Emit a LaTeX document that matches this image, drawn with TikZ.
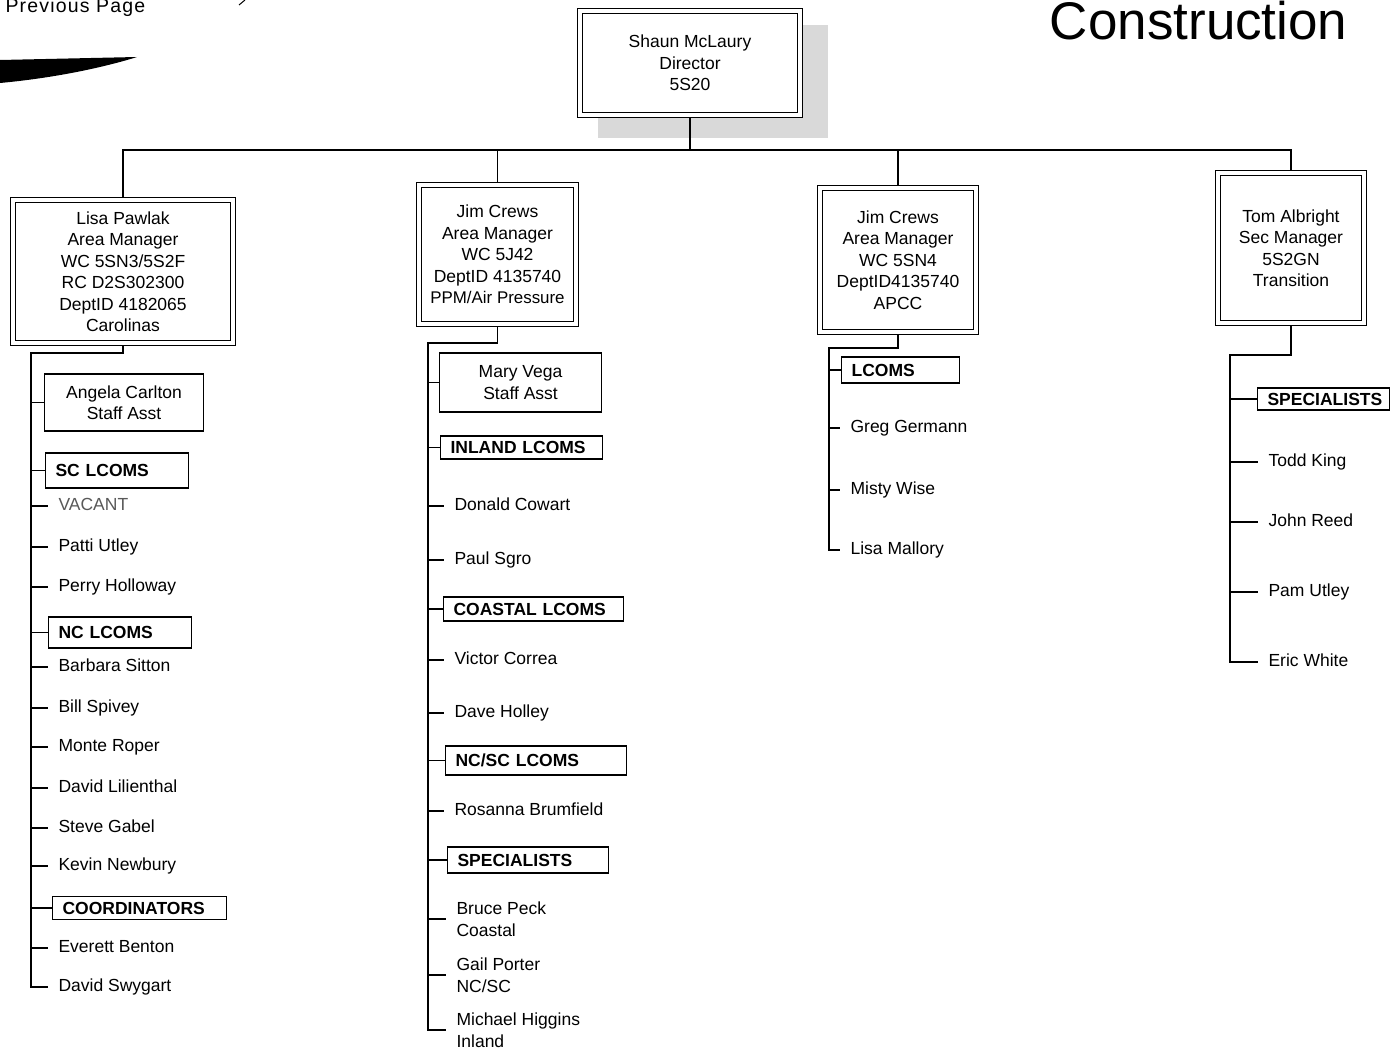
\documentclass[tikz,border=0pt]{standalone}
\usepackage{fontspec}
\setmainfont{Liberation Sans}
\begin{document}
\begin{tikzpicture}[x=1pt,y=-1pt, line width=1.1pt,
  every node/.style={font=\fontsize{17.5}{21.5}\selectfont},
  hdr/.style={draw, double, double distance=3.6pt, line width=1.1pt, fill=white, align=center, inner sep=0pt, outer sep=2.9pt},
  grp/.style={draw, line width=1.1pt, anchor=west, inner xsep=10pt, inner ysep=0pt, align=left, text height=12.5pt, text depth=0pt, font=\fontsize{17.5}{21.5}\selectfont\bfseries},
  leaf/.style={anchor=west, inner sep=0pt, align=left, text height=12.5pt, text depth=3.5pt},
  leafb/.style={anchor=west, inner sep=0pt, align=left},
  asst/.style={draw, line width=1.1pt, anchor=west, align=center, inner sep=0pt}
]
\clip (0,0) rectangle (1390,1051);
\fill[white] (0,0) rectangle (1390,1051);

% page decorations
\node[anchor=base west, font=\fontsize{19.5}{22}\selectfont\addfontfeatures{LetterSpace=6}, inner sep=0pt] (prev) at (5,13) {Previous Page};
\fill (0,60) -- (137,57) .. controls (115,64) and (65,77) .. (0,83) -- cycle;
\draw[line width=1pt] (239,5) -- (245,0);
\node[anchor=base east, inner sep=0pt, font=\fontsize{53}{60}\selectfont] (title) at (1348,40) {Construction};

% director
\fill[gray!30] (598,25) rectangle (828,138);
\node[hdr, minimum width=220pt, minimum height=104pt] (dir) at (690,63) {Shaun McLaury\\Director\\5S20};

% area managers
\node[hdr, minimum width=220pt, minimum height=143pt] (b1) at (123,271.5) {Lisa Pawlak\\Area Manager\\WC 5SN3/5S2F\\RC D2S302300\\DeptID 4182065\\Carolinas};
\node[hdr, minimum width=157pt, minimum height=139pt] (b2) at (497.5,254.5) {Jim Crews\\Area Manager\\WC 5J42\\DeptID 4135740\\{\fontsize{16.9}{21.5}\selectfont PPM/Air Pressure}};
\node[hdr, minimum width=156pt, minimum height=144pt] (b3) at (898,260) {Jim Crews\\Area Manager\\WC 5SN4\\DeptID4135740\\APCC};
\node[hdr, minimum width=146pt, minimum height=150pt] (b4) at (1291,248) {Tom Albright\\Sec Manager\\5S2GN\\Transition};

\coordinate (bar) at (0,150);
\draw (dir.south) -- (dir.south |- bar);
\draw (b1.north) -- (b1.north |- bar) -- (b4.north |- bar) -- (b4.north);
\draw (b2.north) -- (b2.north |- bar);
\draw (b3.north) -- (b3.north |- bar);

% column 1
\coordinate (t1) at (31,353);
\node[asst, minimum width=159pt, minimum height=57pt] (ang) at (44,402.5) {Angela Carlton\\Staff Asst};
\node[grp, text width=123pt, minimum height=35pt] (sc) at (45,470.5) {SC LCOMS};
\node[grp, text width=123pt, minimum height=31pt] (nc) at (48,632.5) {NC LCOMS};
\node[grp, text width=154pt, minimum height=23pt] (coord) at (52,908) {COORDINATORS};
\node[leaf, text=black!65] (vac) at (58,506) {VACANT};
\node[leaf] (pat) at (58,547) {Patti Utley};
\node[leaf] (per) at (58,587) {Perry Holloway};
\node[leaf] (bar1) at (58,667) {Barbara Sitton};
\node[leaf] (bil) at (58,708) {Bill Spivey};
\node[leaf] (mon) at (58,747) {Monte Roper};
\node[leaf] (dli) at (58,788) {David Lilienthal};
\node[leaf] (ste) at (58,828) {Steve Gabel};
\node[leaf] (kev) at (58,866) {Kevin Newbury};
\node[leaf] (eve) at (58,948) {Everett Benton};
\node[leaf] (swy) at (58,987) {David Swygart};
\draw (b1.south) |- (t1) |- ([xshift=-10pt]swy.west);
\foreach \n in {ang,sc,nc,coord} \draw (t1 |- \n.west) -- (\n.west);
\foreach \n in {vac,pat,per,bar1,bil,mon,dli,ste,kev,eve} \draw (t1 |- \n.west) -- ([xshift=-10pt]\n.west);

% column 2
\coordinate (t2) at (428,343);
\node[asst, minimum width=162pt, minimum height=59pt] (mar) at (439,382.5) {Mary Vega\\Staff Asst};
\node[grp, text width=142pt, minimum height=23pt] (inl) at (440,447.5) {INLAND LCOMS};
\node[grp, text width=160pt, minimum height=24pt] (coa) at (443,609) {COASTAL LCOMS};
\node[grp, text width=161pt, minimum height=29pt] (ncsc) at (445,760.5) {NC/SC LCOMS};
\node[grp, text width=141pt, minimum height=26pt] (spec2) at (447,860) {SPECIALISTS};
\node[leaf] (don) at (454,506) {Donald Cowart};
\node[leaf] (pau) at (454,560) {Paul Sgro};
\node[leaf] (vic) at (454,660) {Victor Correa};
\node[leaf] (dho) at (454,713) {Dave Holley};
\node[leaf] (ros) at (454,811) {Rosanna Brumfield};
\node[leafb] (bru) at (456,919) {Bruce Peck\\Coastal};
\node[leafb] (gai) at (456,975) {Gail Porter\\NC/SC};
\node[leafb] (mic) at (456,1030) {Michael Higgins\\Inland};
\draw (b2.south) |- (t2) |- ([xshift=-10pt]mic.west);
\foreach \n in {mar,inl,coa,ncsc,spec2} \draw (t2 |- \n.west) -- (\n.west);
\foreach \n in {don,pau,vic,dho,ros,bru,gai} \draw (t2 |- \n.west) -- ([xshift=-10pt]\n.west);

% column 3
\coordinate (t3) at (829,348);
\node[grp, text width=98pt, minimum height=26pt] (lc3) at (841,370) {LCOMS};
\node[leaf] (gre) at (850,428) {Greg Germann};
\node[leaf] (mis) at (850,490) {Misty Wise};
\node[leaf] (lma) at (850,550) {Lisa Mallory};
\draw (b3.south) |- (t3) |- ([xshift=-10pt]lma.west);
\draw (t3 |- lc3.west) -- (lc3.west);
\foreach \n in {gre,mis} \draw (t3 |- \n.west) -- ([xshift=-10pt]\n.west);

% column 4
\coordinate (t4) at (1230,355);
\node[grp, text width=112pt, minimum height=22pt] (sp4) at (1257,399) {SPECIALISTS};
\node[leaf] (tod) at (1268,462) {Todd King};
\node[leaf] (joh) at (1268,522) {John Reed};
\node[leaf] (pam) at (1268,592) {Pam Utley};
\node[leaf] (eri) at (1268,662) {Eric White};
\draw (b4.south) |- (t4) |- ([xshift=-10pt]eri.west);
\draw (t4 |- sp4.west) -- (sp4.west);
\foreach \n in {tod,joh,pam} \draw (t4 |- \n.west) -- ([xshift=-10pt]\n.west);
\end{tikzpicture}
\end{document}
